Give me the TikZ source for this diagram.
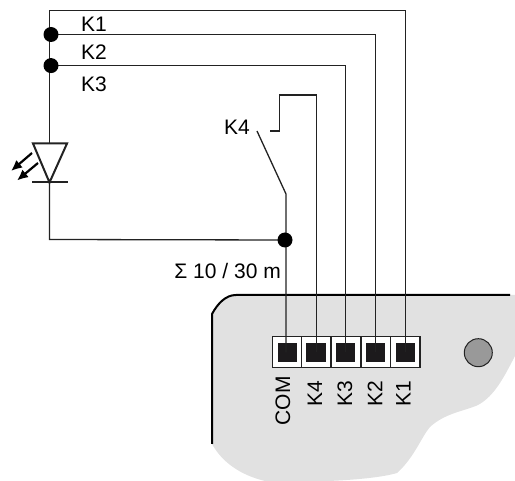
\documentclass[tikz,border=0pt]{standalone}
\usepackage{fontspec}
\setmainfont{Liberation Sans}
\usetikzlibrary{arrows.meta}
\definecolor{wire}{HTML}{222222}
\definecolor{body}{HTML}{E1E1E1}
\definecolor{padfill}{HTML}{1C1A1C}
\tikzset{
  wireline/.style={draw=wire,line width=1.3pt,line join=miter},
  dotnode/.style={circle,fill=black,inner sep=0pt,minimum size=15pt},
  lab/.style={inner sep=0pt,font=\fontsize{21}{23}\selectfont,text=black},
  rlab/.style={lab,rotate=90,anchor=east},
  cell/.style={draw=wire,line width=1.3pt,fill=white,minimum width=29.3pt,minimum height=31pt,inner sep=0pt},
  pad/.style={fill=padfill,minimum width=19.5pt,minimum height=19pt,inner sep=0pt},
  ledarrow/.style={draw=black,line width=2.2pt,-{Latex[length=11pt,width=10pt]}}
}
\begin{document}
\begin{tikzpicture}[x=1pt,y=-1pt]
\useasboundingbox (0,0) rectangle (515,481);
% body
\fill[body] (212,314) .. controls (218,303) and (226,295) .. (236,295)
  -- (515,295) -- (515,356) .. controls (505,375) and (495,396) .. (478,405)
  .. controls (465,411) and (445,413) .. (430,427) .. controls (422,436) and (414,458) .. (397,473)
  .. controls (370,481) and (300,483) .. (265,481) .. controls (240,475) and (222,462) .. (212,444) -- cycle;
\draw[line width=2pt,draw=black] (212,444) -- (212,314) .. controls (218,303) and (226,295) .. (236,295) -- (510,295);
% terminals
\node[cell] (c0) at (287.3,352.3) {};
\node[cell] (c1) at (316.2,352.3) {};
\node[cell] (c2) at (345.6,352.3) {};
\node[cell] (c3) at (375.6,352.3) {};
\node[cell] (c4) at (405.3,352.3) {};
\node[pad] (pcom) at (c0) {};
\node[pad] (pk4) at (c1) {};
\node[pad] (pk3) at (c2) {};
\node[pad] (pk2) at (c3) {};
\node[pad] (pk1) at (c4) {};
\node[circle,draw=wire,line width=1pt,fill=black!40,minimum size=28pt,inner sep=0pt] (knob) at (478.3,352.7) {};
% led
\coordinate (ledtop) at (49.5,143);
\coordinate (ledbot) at (49.5,182.5);
\coordinate (corner) at (49.5,239.5);
\coordinate (tl) at (49.5,10.5);
\coordinate (j1) at (51,34.5);
\coordinate (j2) at (51,65.6);
\coordinate (j3) at (285,240);
% wires
\draw[wireline] (ledtop) -- (tl) -| (pk1.center);
\draw[wireline] (j1) -| (pk2.center);
\draw[wireline] (j2) -| (pk3.center);
\draw[wireline] (ledbot) -- (corner) -- (j3);
\coordinate (sw) at (286,194);
\coordinate (swend) at (257,131);
\draw[wireline] (swend) -- (sw) -- (sw |- pcom.center);
\coordinate (k4a) at (270,131);
\coordinate (k4b) at (279.5,131);
\coordinate (k4c) at (279.5,95);
\draw[wireline] (k4a) -- (k4b) -- (k4c) -| (pk4.center);
% junctions
\node[dotnode] (d1) at (j1) {};
\node[dotnode] (d2) at (j2) {};
\node[dotnode] (d3) at (j3) {};
% led symbol
\draw[draw=wire,line width=2pt,line join=miter] (33,143.5) -- (67,143.5) -- (ledbot) -- cycle;
\draw[draw=wire,line width=2pt] (32,182.5) -- (68,182.5);
\coordinate (a1s) at (32,153); \coordinate (a1e) at (11,171);
\coordinate (a2s) at (38,163); \coordinate (a2e) at (17,180.5);
\draw[ledarrow] (a1s) -- (a1e);
\draw[ledarrow] (a2s) -- (a2e);
% labels
\node[lab,anchor=west] (lk1) at (81,24.5) {K1};
\node[lab,anchor=west] (lk2) at (81,52) {K2};
\node[lab,anchor=west] (lk3) at (81,84) {K3};
\node[lab,anchor=east] (lk4) at (250,127) {K4};
\node[lab,anchor=east] (lsum) at (281,271) {Σ 10 / 30 m};
\node[rlab] (tcom) at (283,376) {COM};
\node[rlab] (tk4) at (315,380.5) {K4};
\node[rlab] (tk3) at (345,380.5) {K3};
\node[rlab] (tk2) at (375,380.5) {K2};
\node[rlab] (tk1) at (403.5,380.5) {K1};
\end{tikzpicture}
\end{document}
